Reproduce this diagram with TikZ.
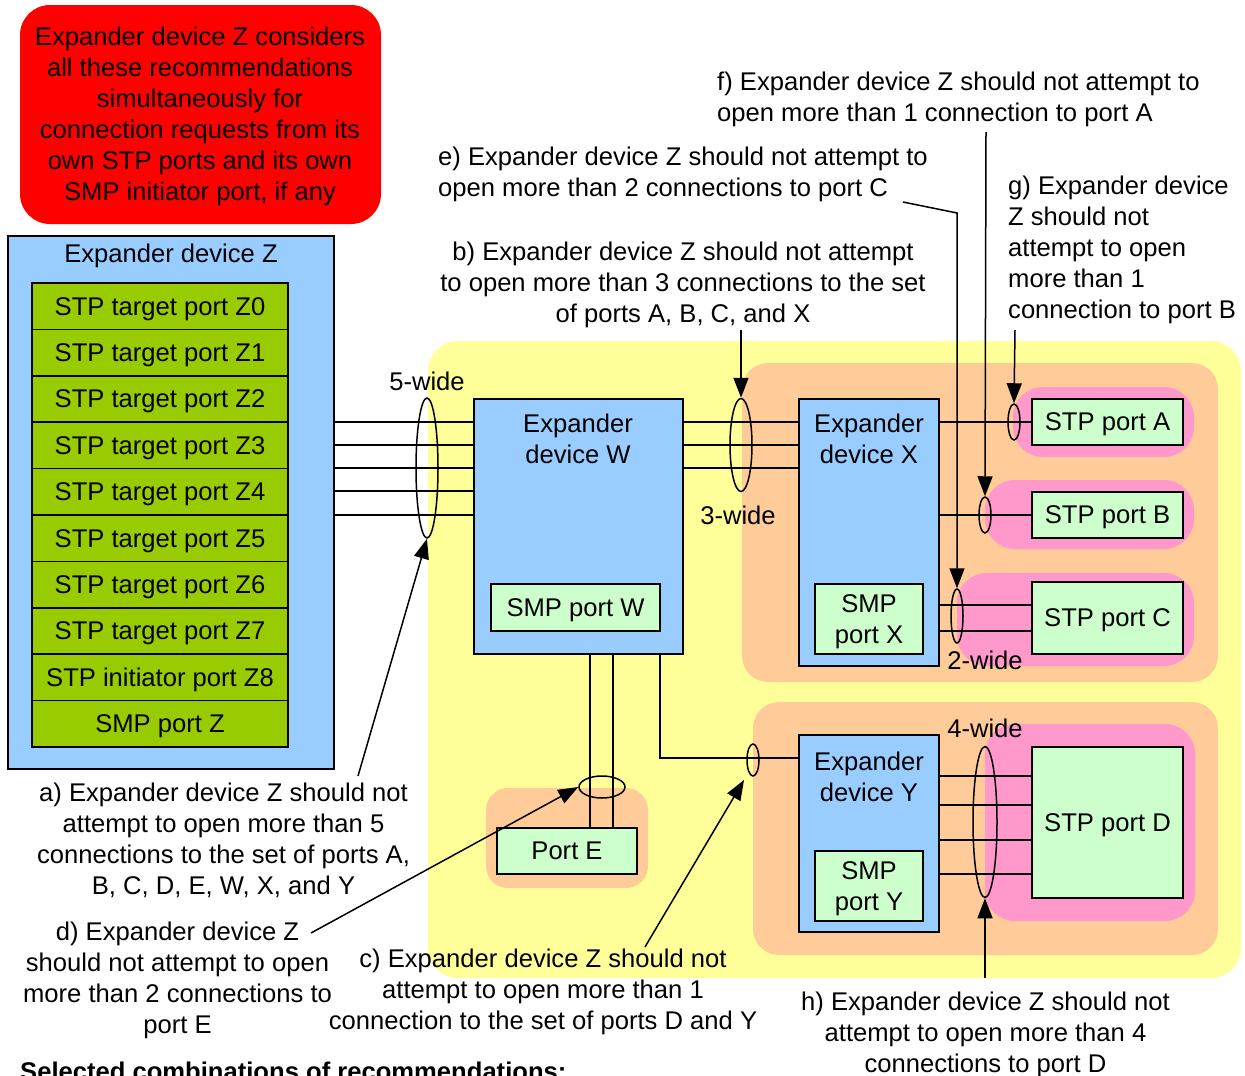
\documentclass[tikz,border=0pt]{standalone}
\usepackage{fontspec}
\setmainfont{Liberation Sans}
\usetikzlibrary{shapes.geometric,arrows.meta}
\definecolor{redbg}{HTML}{FF0000}
\definecolor{yelbg}{HTML}{FFFF99}
\definecolor{orabg}{HTML}{FFCC99}
\definecolor{pinkbg}{HTML}{FF99CC}
\definecolor{lblue}{HTML}{99CCFF}
\definecolor{lgreen}{HTML}{CCFFCC}
\definecolor{dgreen}{HTML}{99CC00}
\begin{document}
\begin{tikzpicture}[x=1pt,y=-1pt,
  font=\fontsize{25.6}{31}\selectfont,
  every node/.style={text depth=0pt},
  box/.style={draw, line width=1.6pt, inner sep=0pt},
  bg/.style={inner sep=0pt, draw=none},
  ell/.style={draw, ellipse, line width=1.5pt, inner sep=0pt},
  wire/.style={line width=2.7pt},
  arr/.style={line width=1.5pt, -{Triangle[length=20pt,width=15pt]}},
  txt/.style={inner sep=0pt, align=center},
  ltxt/.style={inner sep=0pt, align=left, anchor=west}]
\useasboundingbox (0,0) rectangle (1245,1076);

% backgrounds
\node[bg, fill=redbg, rounded corners=30pt, minimum width=361pt, minimum height=219pt] (red) at (200.5,114.5) {};
\node[txt] (redtxt) at (200,113.5) {Expander device Z considers\\all these recommendations\\simultaneously for\\connection requests from its\\own STP ports and its own\\SMP initiator port, if any};

\node[bg, fill=yelbg, rounded corners=30pt, minimum width=813pt, minimum height=637pt] (yel) at (834.5,659.5) {};
\node[bg, fill=orabg, rounded corners=26pt, minimum width=476pt, minimum height=319pt] (oX) at (980,522.5) {};
\node[bg, fill=orabg, rounded corners=26pt, minimum width=465pt, minimum height=253pt] (oY) at (985.5,828.5) {};
\node[bg, fill=orabg, rounded corners=22pt, minimum width=162pt, minimum height=100pt] (oE) at (567,838) {};
\node[bg, fill=pinkbg, rounded corners=30pt, minimum width=181pt, minimum height=70pt] (pA) at (1103.5,422) {};
\node[bg, fill=pinkbg, rounded corners=30pt, minimum width=209pt, minimum height=69pt] (pB) at (1089.5,514.5) {};
\node[bg, fill=pinkbg, rounded corners=30pt, minimum width=237pt, minimum height=93pt] (pC) at (1075.5,619.5) {};
\node[bg, fill=pinkbg, rounded corners=30pt, minimum width=210pt, minimum height=197pt] (pD) at (1090,822.5) {};

% Expander device Z
\node[box, fill=lblue, minimum width=326pt, minimum height=533pt] (Z) at (171,502.5) {};
\node[txt] (Ztitle) at (171,253) {Expander device Z};
\foreach \i/\t in {0/STP target port Z0,1/STP target port Z1,2/STP target port Z2,3/STP target port Z3,4/STP target port Z4,5/STP target port Z5,6/STP target port Z6,7/STP target port Z7,8/STP initiator port Z8,9/SMP port Z}{
  \node[box, fill=dgreen, minimum width=256pt, minimum height=46.4pt] (z\i) at (160,{283+46.4*(\i+0.5)}) {\t};
}

% Expander W
\node[box, fill=lblue, minimum width=209pt, minimum height=255pt] (W) at (578.5,526.5) {};
\node[txt] (Wt) at (578,438.5) {Expander\\device W};
\node[box, fill=lgreen, minimum width=169pt, minimum height=47pt] (SW) at (575.5,607.5) {SMP port W};

% Expander X
\node[box, fill=lblue, minimum width=140pt, minimum height=267pt] (X) at (869,532.5) {};
\node[txt] (Xt) at (869,438.5) {Expander\\device X};
\node[box, fill=lgreen, minimum width=108pt, minimum height=70pt, align=center] (SX) at (869,619) {SMP\\port X};

% Expander Y
\node[box, fill=lblue, minimum width=140pt, minimum height=197pt] (Y) at (869,833.5) {};
\node[txt] (Yt) at (869,776.5) {Expander\\device Y};
\node[box, fill=lgreen, minimum width=108pt, minimum height=70pt, align=center] (SY) at (869,886) {SMP\\port Y};

% STP ports
\node[box, fill=lgreen, minimum width=151pt, minimum height=46pt] (A) at (1107.5,422) {STP port A};
\node[box, fill=lgreen, minimum width=151pt, minimum height=46pt] (B) at (1107.5,515) {STP port B};
\node[box, fill=lgreen, minimum width=151pt, minimum height=72pt] (C) at (1107.5,618) {STP port C};
\node[box, fill=lgreen, minimum width=151pt, minimum height=151pt] (D) at (1107.5,822.5) {STP port D};
\node[box, fill=lgreen, minimum width=140pt, minimum height=46pt] (E) at (567,851) {Port E};

% wires Z - W
\foreach \yy in {422,445,468,491,515}{
  \draw[wire] (Z.east |- 0,\yy) -- (W.west |- 0,\yy);
}
% wires W - X
\foreach \yy in {422,445,468}{
  \draw[wire] (W.east |- 0,\yy) -- (X.west |- 0,\yy);
}
% X - A, B, C
\draw[wire] (X.east |- 0,422) -- (A.west |- 0,422);
\draw[wire] (X.east |- 0,515) -- (B.west |- 0,515);
\draw[wire] (X.east |- 0,605) -- (C.west |- 0,605);
\draw[wire] (X.east |- 0,631) -- (C.west |- 0,631);
% Y - D
\foreach \yy in {776,805,840,874}{
  \draw[wire] (Y.east |- 0,\yy) -- (D.west |- 0,\yy);
}
% W - E
\draw[wire] (590,0 |- W.south) -- (590,0 |- E.north);
\draw[wire] (613,0 |- W.south) -- (613,0 |- E.north);
% W - Y
\draw[wire] (660,0 |- W.south) -- (660,758) -- (Y.west |- 0,758);

% ellipses
\node[ell, minimum width=22pt, minimum height=140pt] (e5) at (427,468) {};
\node[ell, minimum width=22pt, minimum height=93pt] (e3) at (741,445) {};
\node[ell, minimum width=12pt, minimum height=36pt] (eA) at (1014,422) {};
\node[ell, minimum width=12pt, minimum height=36pt] (eB) at (985,515) {};
\node[ell, minimum width=12pt, minimum height=54pt] (eC) at (957,616) {};
\node[ell, minimum width=46pt, minimum height=22pt] (eE) at (602,787) {};
\node[ell, minimum width=12pt, minimum height=32pt] (eY) at (753,760) {};
\node[ell, minimum width=24pt, minimum height=151pt] (eD) at (985,822) {};

% width labels
\node[txt] (l5) at (427,381) {5-wide};
\node[txt] (l3) at (738,515) {3-wide};
\node[txt] (l2) at (985,660) {2-wide};
\node[txt] (l4) at (985,728) {4-wide};

% recommendation texts
\node[ltxt] (tf) at (717,96.5) {f) Expander device Z should not attempt to\\open more than 1 connection to port A};
\node[ltxt] (te) at (438,171.5) {e) Expander device Z should not attempt to\\open more than 2 connections to port C};
\node[ltxt] (tg) at (1008,247.4) {g) Expander device\\Z should not\\attempt to open\\more than 1\\connection to port B};
\node[txt] (tb) at (683,282) {b) Expander device Z should not attempt\\to open more than 3 connections to the set\\of ports A, B, C, and X};
\node[txt] (ta) at (223.5,838.5) {a) Expander device Z should not\\attempt to open more than 5\\connections to the set of ports A,\\B, C, D, E, W, X, and Y};
\node[txt] (td) at (177.5,977.5) {d) Expander device Z\\should not attempt to open\\more than 2 connections to\\port E};
\node[txt] (tc) at (543,989) {c) Expander device Z should not\\attempt to open more than 1\\connection to the set of ports D and Y};
\node[txt] (th) at (985.5,1032) {h) Expander device Z should not\\attempt to open more than 4\\connections to port D};
\node[inner sep=0pt, anchor=base west, font=\fontsize{25.6}{31}\selectfont\bfseries] (sel) at (20,1080) {Selected combinations of recommendations:};

% arrows
\coordinate (aS) at (358,776);
\coordinate (dS) at (311,933);
\coordinate (cS) at (645,947);
\coordinate (cT) at (744,780);
\coordinate (bS) at (741,330);
\coordinate (eS) at (903,202);
\coordinate (eK) at (957,213);
\coordinate (fS) at (986,132);
\coordinate (gS) at (1015,330);
\coordinate (hS) at (985,978);
\draw[arr] (aS) -- (e5.south);
\draw[arr] (dS) -- (eE.west);
\draw[arr] (cS) -- (cT);
\draw[arr] (bS) -- (e3.north);
\draw[arr] (eS) -- (eK) -- (eC.north);
\draw[arr] (fS) -- (eB.north);
\draw[arr] (gS) -- (eA.north);
\draw[arr] (hS) -- (eD.south);
\end{tikzpicture}
\end{document}
